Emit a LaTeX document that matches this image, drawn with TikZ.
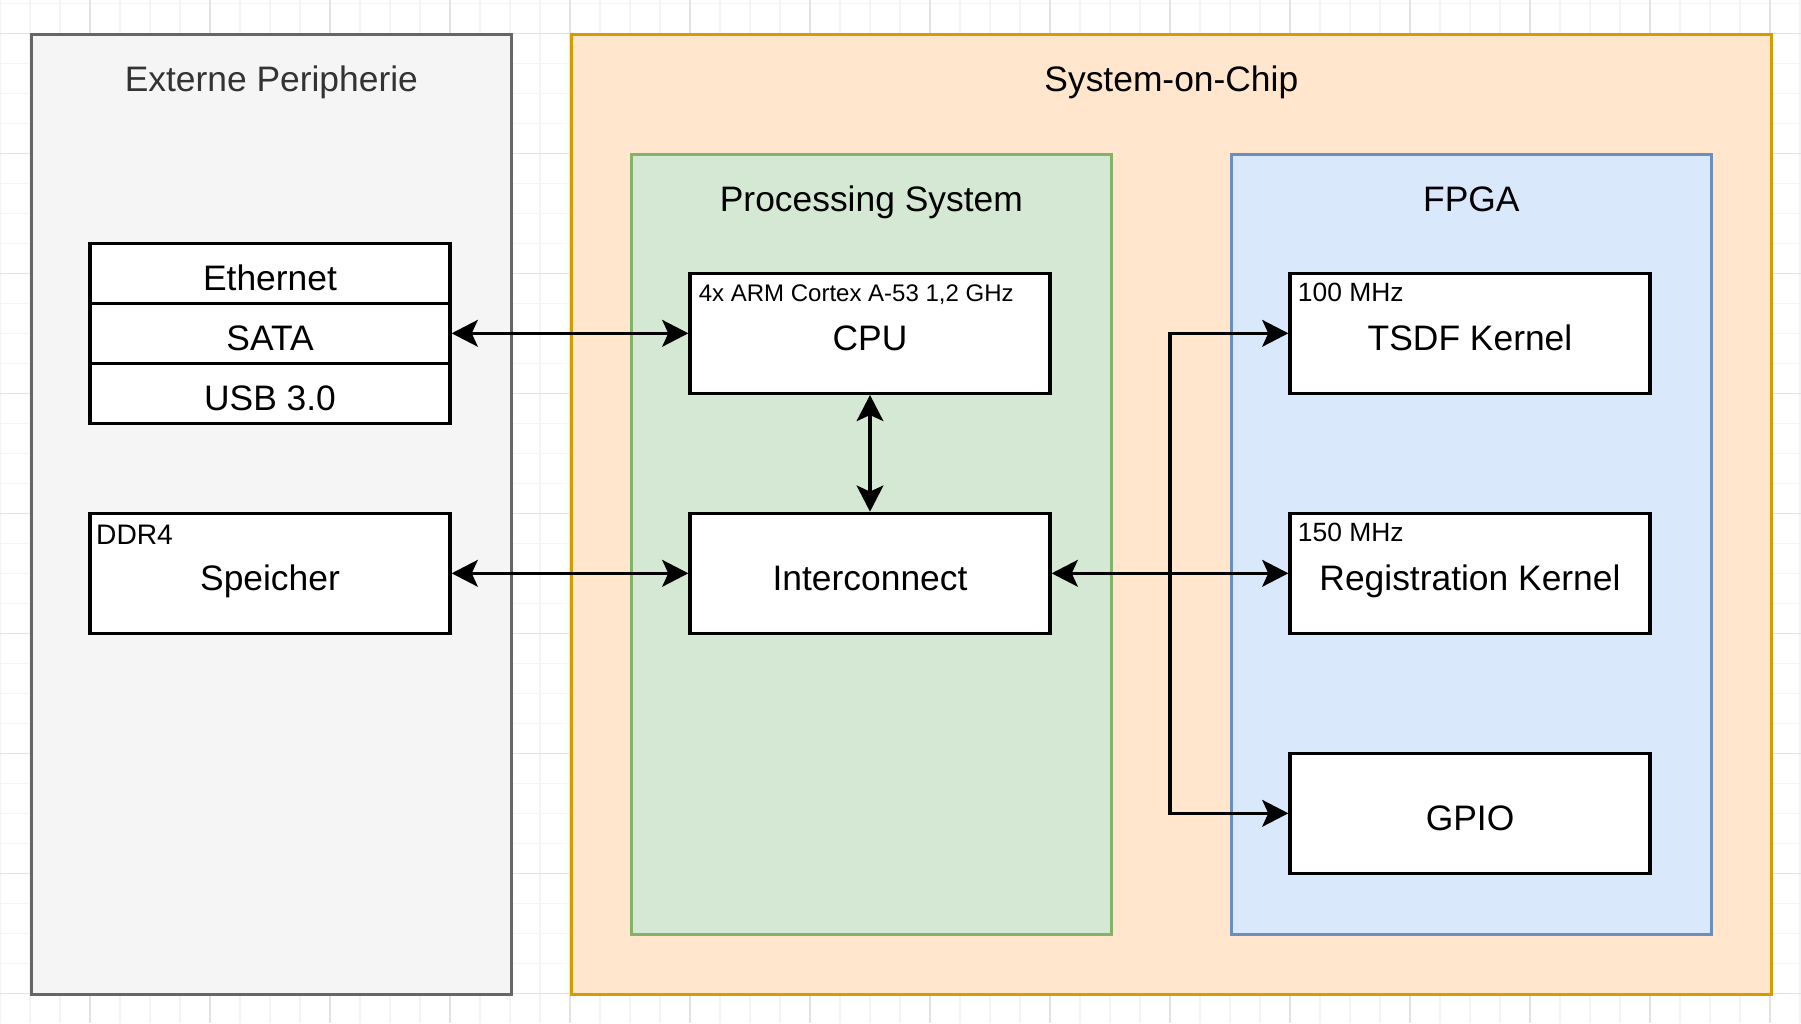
\documentclass[tikz,border=0pt]{standalone}
\usepackage{fontspec}
\setmainfont{Liberation Sans}
\usepackage{xcolor}
\usetikzlibrary{arrows.meta,positioning,calc}
\definecolor{gridminor}{HTML}{F4F4F4}
\definecolor{gridmajor}{HTML}{E3E3E3}
\definecolor{perfill}{HTML}{F5F5F5}
\definecolor{perline}{HTML}{666666}
\definecolor{perfont}{HTML}{333333}
\definecolor{socfill}{HTML}{FFE6CC}
\definecolor{socline}{HTML}{D79B00}
\definecolor{psfill}{HTML}{D5E8D4}
\definecolor{psline}{HTML}{82B366}
\definecolor{plfill}{HTML}{DAE8FC}
\definecolor{plline}{HTML}{6C8EBF}
\tikzstyle{cont}=[draw,line width=0.9pt,inner sep=0pt,anchor=north west,minimum width=160pt]
\tikzstyle{ttl}=[anchor=base,inner sep=0pt,font=\fontsize{11.8}{14}\selectfont]
\tikzstyle{blk}=[draw,fill=white,line width=1.1pt,inner sep=0pt,minimum width=120pt,minimum height=40pt,text height=11.6pt,text depth=0pt,font=\fontsize{11.8}{14}\selectfont]
\tikzstyle{tag}=[anchor=base west,inner sep=0pt]
\tikzstyle{link}=[line width=1.1pt]

\begin{document}
\begin{tikzpicture}[x=1pt,y=-1pt,>={Stealth[length=8.7pt,width=8.9pt,inset=2pt]}]
\useasboundingbox (0,-1.1) rectangle (600.33,339.9);
\foreach \i in {0,10,...,600} \draw[gridminor,line width=0.35pt] (\i,-1.1) -- (\i,339.9);
\foreach \j in {0,10,...,330} \draw[gridminor,line width=0.35pt] (0,\j) -- (600.33,\j);
\foreach \i in {30,70,...,590} \draw[gridmajor,line width=0.35pt] (\i,-1.1) -- (\i,339.9);
\foreach \j in {10,50,...,330} \draw[gridmajor,line width=0.35pt] (0,\j) -- (600.33,\j);

\node[cont,fill=perfill,draw=perline,minimum height=320pt] (per) at (10,10) {};
\node[cont,fill=socfill,draw=socline,minimum width=400pt,minimum height=320pt] (soc) at (190,10) {};
\node[cont,fill=psfill,draw=psline,minimum height=260pt] (ps) at (210,50) {};
\node[cont,fill=plfill,draw=plline,minimum height=260pt] (pl) at (410,50) {};
\node[ttl,text=perfont] at ($(per.north)+(0,19.5)$) {Externe Peripherie};
\node[ttl] at ($(soc.north)+(0,19.5)$) {System-on-Chip};
\node[ttl] at ($(ps.north)+(0,19.5)$) {Processing System};
\node[ttl] at ($(pl.north)+(0,19.5)$) {FPGA};

\node[blk,minimum height=20pt] (eth) at (90,90) {Ethernet};
\path (eth)++(0,20) node[blk,minimum height=20pt] (sata) {SATA};
\path (sata)++(0,20) node[blk,minimum height=20pt] (usb) {USB 3.0};
\path (sata)++(0,80) node[blk] (mem) {Speicher};
\path (sata)++(200,0) node[blk] (cpu) {CPU};
\path (cpu)++(0,80) node[blk] (ic) {Interconnect};
\path (cpu)++(200,0) node[blk] (tsdf) {TSDF Kernel};
\path (tsdf)++(0,80) node[blk] (reg) {Registration Kernel};
\path (reg)++(0,80) node[blk] (gpio) {GPIO};

\node[tag,font=\fontsize{8}{10}\selectfont] at ($(cpu.north west)+(3.3,9.9)$) {4x ARM Cortex A-53 1,2 GHz};
\node[tag,font=\fontsize{9.4}{11}\selectfont] at ($(mem.north west)+(2.4,10.8)$) {DDR4};
\node[tag,font=\fontsize{8.8}{10}\selectfont] at ($(tsdf.north west)+(3,10)$) {100 MHz};
\node[tag,font=\fontsize{8.8}{10}\selectfont] at ($(reg.north west)+(3,10)$) {150 MHz};

\draw[link,<->] (sata) -- (cpu);
\draw[link,<->] (mem) -- (ic);
\draw[link,<->] (cpu) -- (ic);
\draw[link,<->] (ic) -- (reg);
\coordinate (j) at ($(ic.east)!0.5!(reg.west)$);
\draw[link,->] (j) |- (tsdf.west);
\draw[link,->] (j) |- (gpio.west);
\end{tikzpicture}
\end{document}
